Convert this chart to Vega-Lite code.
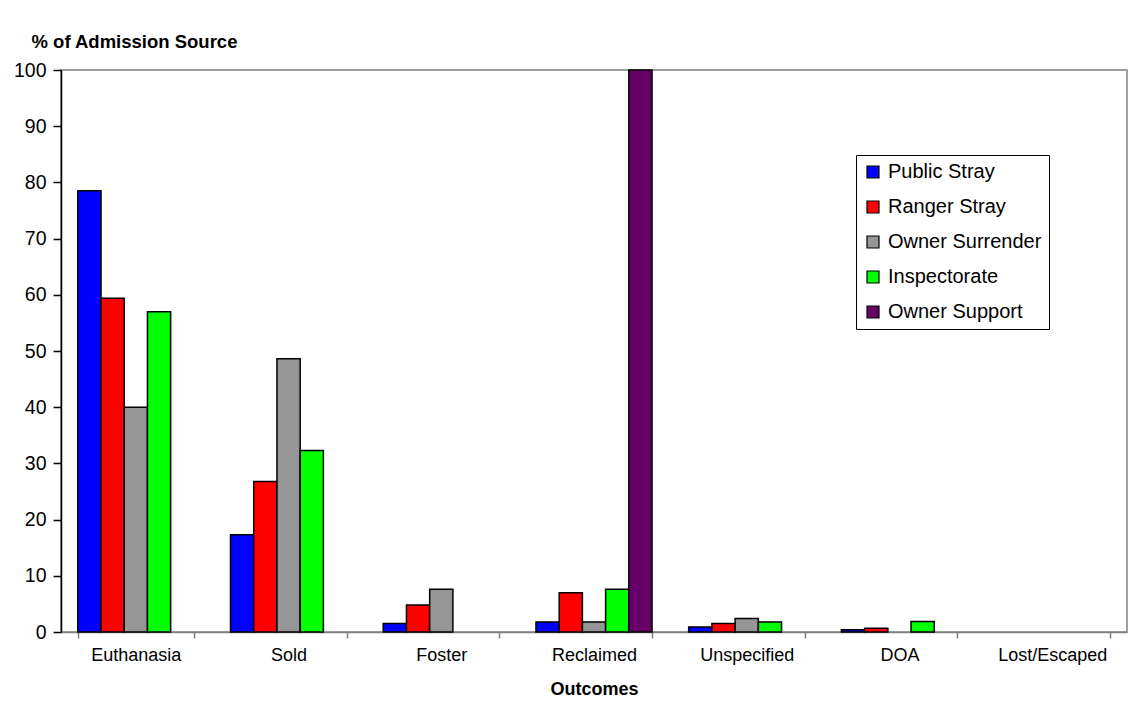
{
  "$schema": "https://vega.github.io/schema/vega-lite/v6.json",
  "autosize": {"type": "none"},
  "width": 1066,
  "height": 562,
  "padding": {"left": 61, "top": 70, "right": 3, "bottom": 87},
  "background": "white",
  "config": {
    "font": "Liberation Sans",
    "view": {"stroke": "#808080", "strokeWidth": 1.5}
  },
  "data": {
    "values": [
      {"outcome": "Euthanasia", "source": "Public Stray", "pct": 78.5},
      {"outcome": "Euthanasia", "source": "Ranger Stray", "pct": 59.4},
      {"outcome": "Euthanasia", "source": "Owner Surrender", "pct": 40.0},
      {"outcome": "Euthanasia", "source": "Inspectorate", "pct": 57.0},
      {"outcome": "Sold", "source": "Public Stray", "pct": 17.3},
      {"outcome": "Sold", "source": "Ranger Stray", "pct": 26.8},
      {"outcome": "Sold", "source": "Owner Surrender", "pct": 48.6},
      {"outcome": "Sold", "source": "Inspectorate", "pct": 32.3},
      {"outcome": "Foster", "source": "Public Stray", "pct": 1.5},
      {"outcome": "Foster", "source": "Ranger Stray", "pct": 4.8},
      {"outcome": "Foster", "source": "Owner Surrender", "pct": 7.6},
      {"outcome": "Reclaimed", "source": "Public Stray", "pct": 1.8},
      {"outcome": "Reclaimed", "source": "Ranger Stray", "pct": 7.0},
      {"outcome": "Reclaimed", "source": "Owner Surrender", "pct": 1.8},
      {"outcome": "Reclaimed", "source": "Inspectorate", "pct": 7.6},
      {"outcome": "Reclaimed", "source": "Owner Support", "pct": 100},
      {"outcome": "Unspecified", "source": "Public Stray", "pct": 0.9},
      {"outcome": "Unspecified", "source": "Ranger Stray", "pct": 1.5},
      {"outcome": "Unspecified", "source": "Owner Surrender", "pct": 2.4},
      {"outcome": "Unspecified", "source": "Inspectorate", "pct": 1.8},
      {"outcome": "DOA", "source": "Public Stray", "pct": 0.4},
      {"outcome": "DOA", "source": "Ranger Stray", "pct": 0.65},
      {"outcome": "DOA", "source": "Inspectorate", "pct": 1.85}
    ]
  },
  "mark": {"type": "bar", "stroke": "black", "strokeWidth": 1.5},
  "encoding": {
    "x": {
      "field": "outcome",
      "type": "nominal",
      "scale": {
        "domain": ["Euthanasia", "Sold", "Foster", "Reclaimed", "Unspecified", "DOA", "Lost/Escaped"],
        "paddingInner": 0.24,
        "paddingOuter": 0.11
      },
      "axis": {
        "title": "Outcomes",
        "titleFont": "Liberation Sans",
        "titleFontSize": 18,
        "titleFontWeight": "bold",
        "titleColor": "black",
        "titleY": 62,
        "titleBaseline": "alphabetic",
        "labelAngle": 0,
        "labelFontSize": 18,
        "labelColor": "black",
        "labelPadding": 8,
        "tickBand": "extent",
        "tickSize": 6,
        "tickColor": "#808080",
        "tickWidth": 1.5,
        "domainColor": "#808080",
        "domainWidth": 1.5,
        "grid": false
      }
    },
    "xOffset": {
      "field": "source",
      "type": "nominal",
      "scale": {
        "domain": ["Public Stray", "Ranger Stray", "Owner Surrender", "Inspectorate", "Owner Support"],
        "paddingInner": 0,
        "paddingOuter": 0
      }
    },
    "y": {
      "field": "pct",
      "type": "quantitative",
      "scale": {"domain": [0, 100], "nice": false},
      "axis": {
        "title": "% of Admission Source",
        "titleAngle": 0,
        "titleAlign": "left",
        "titleBaseline": "alphabetic",
        "titleX": -30,
        "titleY": -23,
        "titleFontSize": 18.5,
        "titleFontWeight": "bold",
        "titleColor": "black",
        "values": [0, 10, 20, 30, 40, 50, 60, 70, 80, 90, 100],
        "labelFontSize": 19.5,
        "labelColor": "black",
        "labelPadding": 7,
        "tickSize": 8,
        "tickColor": "black",
        "tickWidth": 1.5,
        "domainColor": "black",
        "domainWidth": 1.5,
        "grid": false
      }
    },
    "color": {
      "field": "source",
      "type": "nominal",
      "scale": {
        "domain": ["Public Stray", "Ranger Stray", "Owner Surrender", "Inspectorate", "Owner Support"],
        "range": ["#0000FF", "#FF0000", "#969696", "#00FF00", "#660066"]
      },
      "legend": {
        "title": null,
        "orient": "none",
        "legendX": 795,
        "legendY": 85,
        "padding": 7,
        "strokeColor": "black",
        "fillColor": "white",
        "symbolType": "square",
        "symbolSize": 144,
        "symbolStrokeColor": "black",
        "symbolStrokeWidth": 1.2,
        "symbolOpacity": 1,
        "labelFontSize": 20,
        "labelColor": "black",
        "labelOffset": 5,
        "rowPadding": 15,
        "labelLimit": 300
      }
    }
  }
}
